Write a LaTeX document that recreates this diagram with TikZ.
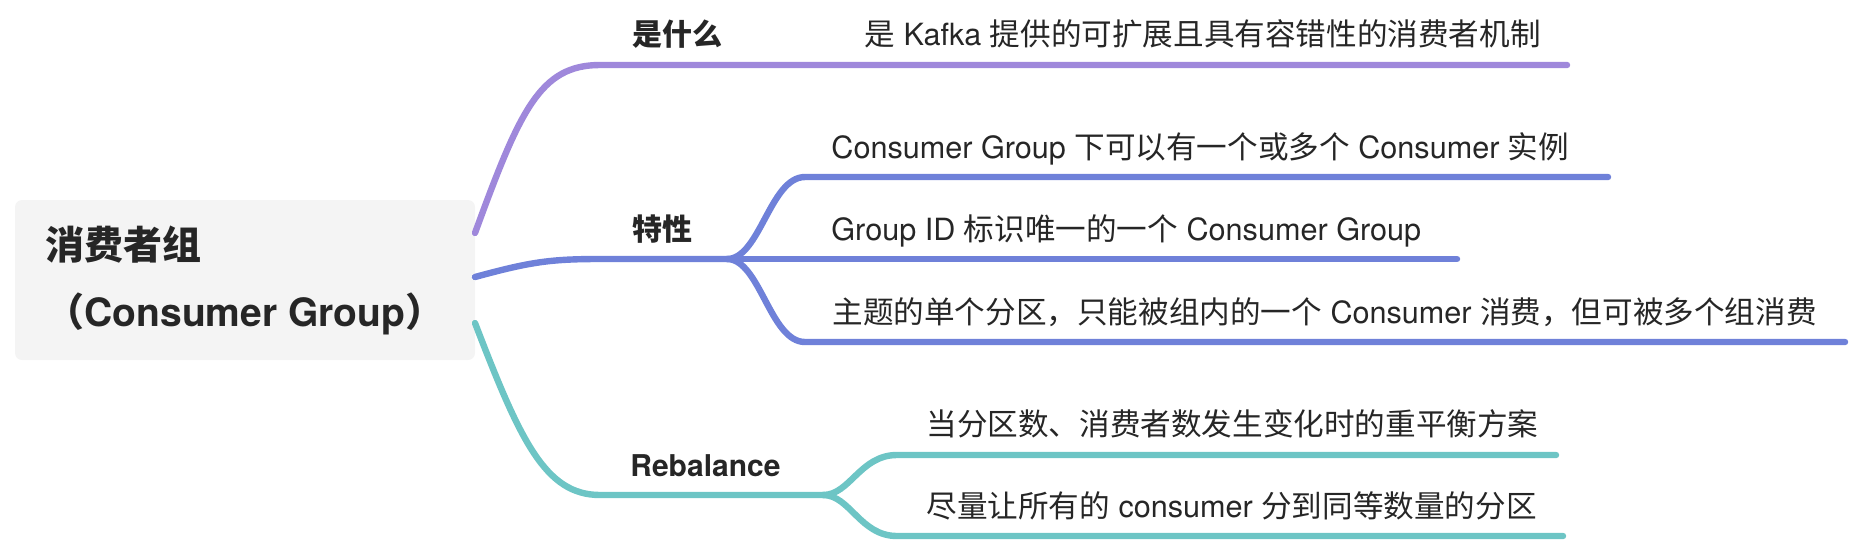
\documentclass[tikz,border=0pt]{standalone}
\usepackage{fontspec}
\setmainfont{TeX Gyre Heros}
\newfontfamily\cjk{Noto Sans CJK SC}
\newcommand{\zh}[1]{{\cjk #1}}
\usepackage{xcolor}
\usepackage{tikz}

\definecolor{inkgray}{HTML}{262626}
\definecolor{rootgray}{HTML}{F4F4F4}
\definecolor{whatpurple}{HTML}{9F88DB}
\definecolor{featblue}{HTML}{6F81D9}
\definecolor{rebteal}{HTML}{6DC5C5}

\begin{document}
\begin{tikzpicture}[x=0.5pt, y=-0.5pt,
  rootbox/.style={rectangle, fill=rootgray, rounded corners=3.5pt, minimum width=230pt, minimum height=80pt, align=left, text=inkgray, font=\fontsize{19.5}{33.5}\selectfont\bfseries},
  topic/.style={anchor=base west, inner sep=0pt, text=inkgray, font=\fontsize{15}{18}\selectfont\bfseries},
  leaf/.style={anchor=base west, inner sep=0pt, text=inkgray, font=\fontsize{15.3}{18}\selectfont},
  branch/.style={line width=3.2pt, line cap=round}
]
\useasboundingbox (0,0) rectangle (1856,541);

% Root
\node[rootbox] (root) at (245,280) {\zh{消费者组}\\\zh{（}Consumer Group\zh{）}};

% Branch points
\coordinate (p0) at (475,233);
\coordinate (p1) at (600,65);
\coordinate (pend) at (1567,65);
\coordinate (b0) at (475,277);
\coordinate (b1) at (600,259);
\coordinate (bj) at (727,259);
\coordinate (bc1s) at (805,177);
\coordinate (bc1e) at (1608,177);
\coordinate (bc2e) at (1457,259);
\coordinate (bc3s) at (805,342);
\coordinate (bc3e) at (1845,342);
\coordinate (t0) at (475,323);
\coordinate (t1) at (600,495);
\coordinate (tj) at (823,495);
\coordinate (tc1s) at (897,455);
\coordinate (tc1e) at (1556,455);
\coordinate (tc2s) at (897,536);
\coordinate (tc2e) at (1563,536);

% What is it
\draw[branch, whatpurple] (p0) .. controls (520,110) and (540,65) .. (p1) -- (pend);
\node[topic] (what) at (632,45) {\zh{是什么}};
\node[leaf] (whatdef) at (864,45) {\zh{是} Kafka \zh{提供的可扩展且具有容错性的消费者机制}};

% Features
\draw[branch, featblue] (b0) .. controls (530,262) and (550,259) .. (b1) -- (bj);
\draw[branch, featblue] (bj) .. controls (760,259) and (770,177) .. (bc1s) -- (bc1e);
\draw[branch, featblue] (bj) -- (bc2e);
\draw[branch, featblue] (bj) .. controls (760,259) and (770,342) .. (bc3s) -- (bc3e);
\node[topic] (feat) at (632,240) {\zh{特性}};
\node[leaf] (feat1) at (831,158) {Consumer Group \zh{下可以有一个或多个} Consumer \zh{实例}};
\node[leaf] (feat2) at (831,240) {Group ID \zh{标识唯一的一个} Consumer Group};
\node[leaf] (feat3) at (832,323) {\zh{主题的单个分区，只能被组内的一个} Consumer \zh{消费，但可被多个组消费}};

% Rebalance
\draw[branch, rebteal] (t0) .. controls (520,440) and (545,495) .. (t1) -- (tj);
\draw[branch, rebteal] (tj) .. controls (850,495) and (860,455) .. (tc1s) -- (tc1e);
\draw[branch, rebteal] (tj) .. controls (850,495) and (860,536) .. (tc2s) -- (tc2e);
\node[topic] (reb) at (630,476) {Rebalance};
\node[leaf] (reb1) at (926,435) {\zh{当分区数、消费者数发生变化时的重平衡方案}};
\node[leaf] (reb2) at (926,517) {\zh{尽量让所有的} consumer \zh{分到同等数量的分区}};

\end{tikzpicture}
\end{document}
